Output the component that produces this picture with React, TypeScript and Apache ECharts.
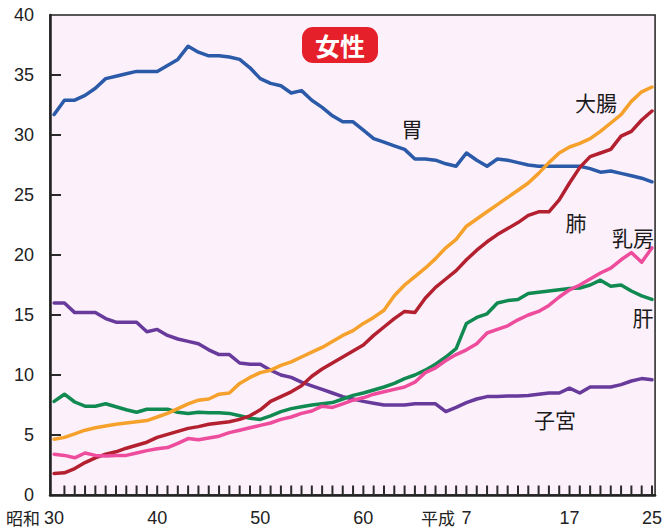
import React, { useEffect, useRef } from "react";
import * as echarts from "echarts";

// Showa-era year numbers (30 = 1955 ... 88 = 2013 = Heisei 25)
const years: number[] = Array.from({ length: 59 }, (_, i) => 30 + i);

const stomach = [
  31.7, 32.9, 32.9, 33.3, 33.9, 34.7, 34.9, 35.1, 35.3, 35.3,
  35.3, 35.8, 36.3, 37.4, 36.9, 36.6, 36.6, 36.5, 36.3, 35.6,
  34.7, 34.3, 34.1, 33.5, 33.7, 32.9, 32.3, 31.6, 31.1, 31.1,
  30.4, 29.7, 29.4, 29.1, 28.8, 28.0, 28.0, 27.9, 27.6, 27.4,
  28.5, 27.9, 27.4, 28.0, 27.9, 27.7, 27.5, 27.4, 27.4, 27.4,
  27.4, 27.4, 27.2, 26.9, 27.0, 26.8, 26.6, 26.4, 26.1,
];
const uterus = [
  16.0, 16.0, 15.2, 15.2, 15.2, 14.7, 14.4, 14.4, 14.4, 13.6,
  13.8, 13.3, 13.0, 12.8, 12.6, 12.1, 11.7, 11.7, 11.0, 10.9,
  10.9, 10.4, 10.0, 9.8, 9.4, 9.1, 8.8, 8.5, 8.2, 8.0,
  7.8, 7.65, 7.5, 7.5, 7.5, 7.6, 7.6, 7.6, 6.95, 7.3,
  7.7, 8.0, 8.2, 8.2, 8.25, 8.25, 8.3, 8.4, 8.5, 8.5,
  8.9, 8.5, 9.0, 9.0, 9.0, 9.2, 9.5, 9.7, 9.6,
];
const liver = [
  7.8, 8.4, 7.75, 7.4, 7.4, 7.6, 7.35, 7.1, 6.9, 7.15,
  7.15, 7.15, 6.9, 6.8, 6.9, 6.85, 6.85, 6.8, 6.6, 6.4,
  6.3, 6.6, 6.95, 7.2, 7.35, 7.5, 7.6, 7.7, 8.0, 8.3,
  8.5, 8.75, 9.0, 9.3, 9.7, 10.0, 10.4, 10.9, 11.5, 12.2,
  14.3, 14.8, 15.1, 16.0, 16.2, 16.3, 16.8, 16.9, 17.0, 17.1,
  17.2, 17.25, 17.5, 17.9, 17.4, 17.5, 17.0, 16.6, 16.3,
];
const colon = [
  4.65, 4.8, 5.1, 5.4, 5.6, 5.75, 5.9, 6.0, 6.1, 6.2,
  6.5, 6.8, 7.2, 7.6, 7.9, 8.0, 8.4, 8.5, 9.3, 9.8,
  10.2, 10.4, 10.8, 11.1, 11.5, 11.9, 12.3, 12.8, 13.3, 13.7,
  14.3, 14.8, 15.4, 16.6, 17.5, 18.2, 18.9, 19.7, 20.6, 21.3,
  22.4, 23.0, 23.6, 24.2, 24.8, 25.4, 26.0, 26.8, 27.7, 28.5,
  29.0, 29.3, 29.7, 30.3, 31.0, 31.7, 32.8, 33.6, 34.0,
];
const lung = [
  1.8, 1.85, 2.2, 2.7, 3.1, 3.4, 3.6, 3.9, 4.15, 4.4,
  4.8, 5.05, 5.3, 5.55, 5.7, 5.9, 6.0, 6.1, 6.3, 6.6,
  7.1, 7.8, 8.2, 8.6, 9.1, 9.9, 10.5, 11.0, 11.5, 12.0,
  12.5, 13.3, 14.0, 14.7, 15.3, 15.2, 16.4, 17.3, 18.0, 18.7,
  19.6, 20.4, 21.1, 21.7, 22.2, 22.7, 23.3, 23.6, 23.6, 24.6,
  26.0, 27.3, 28.2, 28.5, 28.8, 29.9, 30.3, 31.25, 32.0,
];
const breast = [
  3.4, 3.3, 3.1, 3.5, 3.3, 3.25, 3.3, 3.3, 3.5, 3.7,
  3.85, 3.95, 4.3, 4.7, 4.6, 4.75, 4.9, 5.2, 5.4, 5.6,
  5.8, 6.0, 6.3, 6.5, 6.8, 7.0, 7.4, 7.3, 7.6, 7.9,
  8.1, 8.4, 8.6, 8.8, 9.0, 9.4, 10.2, 10.6, 11.2, 11.7,
  12.1, 12.6, 13.5, 13.8, 14.1, 14.6, 15.0, 15.3, 15.8, 16.5,
  17.1, 17.5, 18.0, 18.5, 18.9, 19.6, 20.2, 19.4, 20.6,
];

const xLabelValues = [30, 40, 50, 60, 70, 80, 88];
const xLabelTexts: Record<number, string> = { 30: "30", 40: "40", 50: "50", 60: "60", 70: "7", 80: "17", 88: "25" };
const yTicks = [5, 10, 15, 20, 25, 30, 35];

const X_MIN = 29.6;
const X_MAX = 88.3;

const seriesDefs = [
  { name: "胃", data: stomach, color: "#2a5aa8" },
  { name: "子宮", data: uterus, color: "#673a9c" },
  { name: "肝", data: liver, color: "#118a52" },
  { name: "大腸", data: colon, color: "#f5a12c" },
  { name: "肺", data: lung, color: "#b3202f" },
  { name: "乳房", data: breast, color: "#ee4c9c" },
];

const labelDefs = [
  { text: "胃", x: 412, y: 128 },
  { text: "大腸", x: 596, y: 102 },
  { text: "肺", x: 576, y: 222 },
  { text: "乳房", x: 633, y: 237 },
  { text: "肝", x: 643, y: 317 },
  { text: "子宮", x: 555, y: 419 },
];

const NUM_FONT = "'Liberation Sans', Arial, sans-serif";
const JP_FONT = "'Noto Sans CJK JP', sans-serif";

export default function App() {
  const ref = useRef<HTMLDivElement>(null);
  useEffect(() => {
    const chart = echarts.init(ref.current!, null, { renderer: "svg" });
    chart.setOption({
      animation: false,
      backgroundColor: "#ffffff",
      grid: {
        left: 50,
        right: 2,
        top: 15,
        bottom: 37,
        show: true,
        backgroundColor: "#fcf0fa",
        borderColor: "#222",
        borderWidth: 1.5,
      },
      xAxis: {
        type: "value",
        min: X_MIN,
        max: X_MAX,
        axisLine: { show: true, lineStyle: { color: "#222", width: 2.5 } },
        axisTick: { show: false },
        axisLabel: {
          customValues: xLabelValues,
          formatter: (v: number) => xLabelTexts[v] ?? "",
          fontSize: 18,
          color: "#222",
          fontFamily: NUM_FONT,
          margin: 14,
        },
        splitLine: { show: false },
      },
      yAxis: {
        type: "value",
        min: 0,
        max: 40,
        interval: 5,
        axisLine: { show: true, lineStyle: { color: "#222", width: 2.5 } },
        axisTick: { show: false },
        axisLabel: {
          fontSize: 18,
          color: "#222",
          fontFamily: NUM_FONT,
          margin: 16,
        },
        splitLine: { show: false },
      },
      series: [
        ...seriesDefs.map((s) => ({
          name: s.name,
          type: "line",
          data: years.map((y, i) => [y, s.data[i]]),
          showSymbol: false,
          symbol: "none",
          lineStyle: { color: s.color, width: 3.5, join: "round", cap: "round" },
          itemStyle: { color: s.color },
          z: 3,
        })),
        {
          name: "xticks",
          type: "scatter",
          silent: true,
          clip: false,
          z: 6,
          symbol: "rect",
          symbolSize: [2, 9],
          symbolOffset: [0, -5],
          itemStyle: { color: "#2a2a2a", opacity: 1 },
          emphasis: { disabled: true },
          data: years.slice(1).map((y) => [y, 0.0001]),
        },
        {
          name: "yticks",
          type: "scatter",
          silent: true,
          clip: false,
          z: 6,
          symbol: "rect",
          symbolSize: [10, 2],
          symbolOffset: [6, 0],
          itemStyle: { color: "#2a2a2a", opacity: 1 },
          emphasis: { disabled: true },
          data: yTicks.map((v) => [X_MIN + 0.0001, v]),
        },
      ],
      graphic: [
        {
          type: "text",
          left: 6,
          top: 509,
          style: { text: "昭和", fontSize: 17, fill: "#222", fontFamily: JP_FONT },
        },
        {
          type: "text",
          left: 421,
          top: 509,
          style: { text: "平成", fontSize: 17, fill: "#222", fontFamily: JP_FONT },
        },
        {
          type: "rect",
          shape: { x: 302, y: 27, width: 76, height: 36, r: 11 },
          style: { fill: "#e5202a" },
          z: 10,
        },
        {
          type: "text",
          x: 340,
          y: 45,
          style: {
            text: "女性",
            fontSize: 25,
            fontWeight: "bold",
            fill: "#ffffff",
            fontFamily: JP_FONT,
            align: "center",
            verticalAlign: "middle",
          },
          z: 11,
        },
        ...labelDefs.map((l) => ({
          type: "text",
          x: l.x,
          y: l.y,
          style: {
            text: l.text,
            fontSize: 21,
            fill: "#1a1a1a",
            fontFamily: JP_FONT,
            align: "center",
            verticalAlign: "middle",
          },
          z: 11,
        })),
      ],
    });
    return () => chart.dispose();
  }, []);
  return (
    <div
      ref={ref}
      style={{ position: "fixed", left: 0, top: 0, width: 665, height: 532 }}
    />
  );
}
